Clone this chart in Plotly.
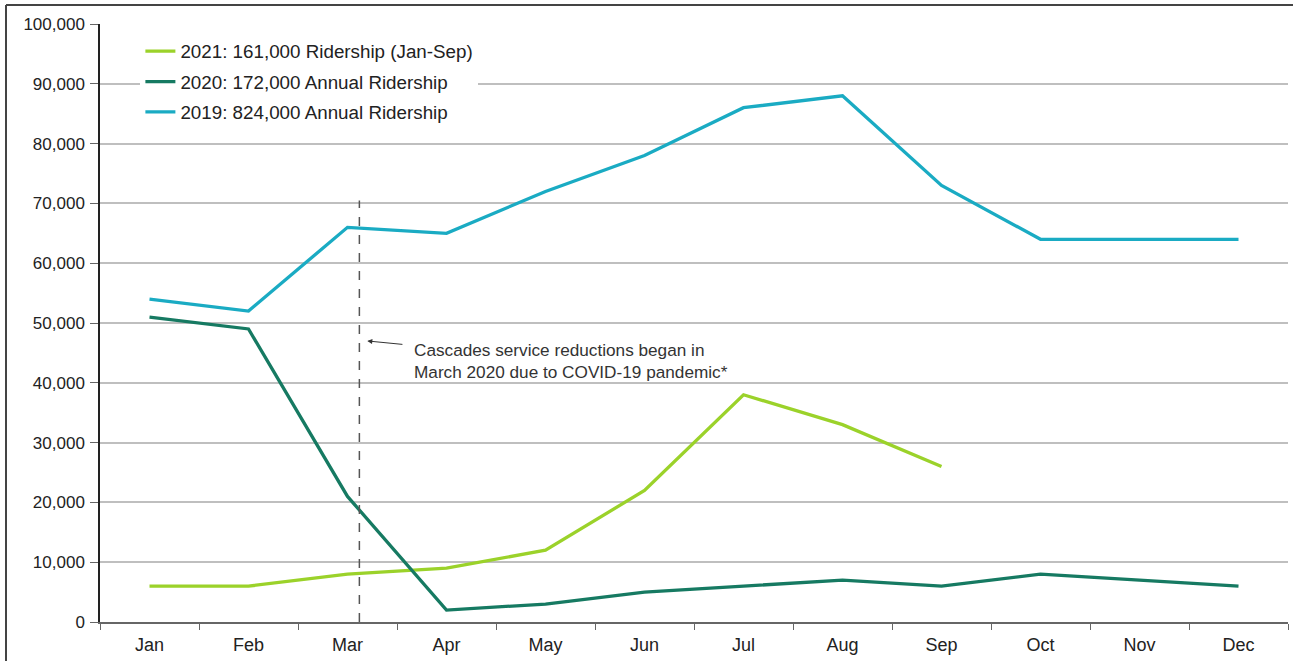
import plotly.graph_objects as go

months = ["Jan", "Feb", "Mar", "Apr", "May", "Jun", "Jul", "Aug", "Sep", "Oct", "Nov", "Dec"]
ridership_2021 = [6000, 6000, 8000, 9000, 12000, 22000, 38000, 33000, 26000]
ridership_2020 = [51000, 49000, 21000, 2000, 3000, 5000, 6000, 7000, 6000, 8000, 7000, 6000]
ridership_2019 = [54000, 52000, 66000, 65000, 72000, 78000, 86000, 88000, 73000, 64000, 64000, 64000]
series_names = ["2021: 161,000 Ridership (Jan-Sep)", "2020: 172,000 Annual Ridership", "2019: 824,000 Annual Ridership"]
y_ticks = [0, 10000, 20000, 30000, 40000, 50000, 60000, 70000, 80000, 90000, 100000]
event_pos = 2.12
event_top = 70500
note_text = "Cascades service reductions began in<br>March 2020 due to COVID-19 pandemic*"

c2021 = "#9BD22A"
c2020 = "#167A62"
c2019 = "#1AABC3"
FONT = "Liberation Sans, Arial, sans-serif"

fig = go.Figure()
fig.add_trace(go.Scatter(x=months[:len(ridership_2021)], y=ridership_2021, mode="lines",
                         name=series_names[0], legendgroup="a", line=dict(color=c2021, width=3.3)))
fig.add_trace(go.Scatter(x=months, y=ridership_2020, mode="lines",
                         name=series_names[1], legendgroup="b", line=dict(color=c2020, width=3.3)))
fig.add_trace(go.Scatter(x=months, y=ridership_2019, mode="lines",
                         name=series_names[2], legendgroup="c", line=dict(color=c2019, width=3.3)))

# dashed event line
fig.add_shape(type="line", xref="x", yref="y", x0=event_pos, x1=event_pos, y0=0, y1=event_top,
              line=dict(color="#555555", width=1.5, dash="dash"), layer="above")

# annotation with arrow
fig.add_annotation(x=event_pos + 0.08, y=47000, xref="x", yref="y",
                   ax=event_pos + 0.45, ay=46400, axref="x", ayref="y",
                   text="", showarrow=True, arrowhead=2, arrowsize=1, arrowwidth=1, arrowcolor="#333333")
fig.add_annotation(x=event_pos + 0.53, y=47500, xref="x", yref="y", text=note_text,
                   showarrow=False, xanchor="left", yanchor="top", align="left",
                   font=dict(size=17.2, color="#333333", family=FONT))

# outer border (left and top)
x_left = (6 - 100) / 1188
y_top = (622 - 5) / 598
fig.add_shape(type="line", xref="paper", yref="paper", x0=x_left, x1=x_left, y0=-0.2, y1=y_top,
              line=dict(color="#444444", width=2))
fig.add_shape(type="line", xref="paper", yref="paper", x0=x_left, x1=1.01, y0=y_top, y1=y_top,
              line=dict(color="#444444", width=2))

fig.update_layout(
    width=1293, height=661,
    margin=dict(l=100, r=5, t=24, b=39),
    paper_bgcolor="white", plot_bgcolor="white",
    font=dict(family=FONT, size=17, color="#222222"),
    showlegend=True,
    legend=dict(x=0.034, y=0.986, xanchor="left", yanchor="top", bgcolor="white",
                font=dict(size=18.8, color="#222222", family=FONT), tracegroupgap=3, itemwidth=30,
                traceorder="grouped"),
    xaxis=dict(type="category", categoryorder="array", categoryarray=months,
               range=[-0.5, 11.5], showgrid=False, showline=True, linecolor="#666666", linewidth=1.5,
               ticks="outside", tickson="boundaries", ticklen=6, tickcolor="#666666",
               ticklabelstandoff=6,
               tickfont=dict(size=18, color="#222222", family=FONT)),
    yaxis=dict(range=[0, 100000], tickvals=y_ticks, tickformat=",", showgrid=True,
               gridcolor="#BFBFBF", gridwidth=1.5, showline=True, linecolor="#222222", linewidth=1.5,
               ticks="outside", ticklen=8, tickcolor="#666666", zeroline=False,
               ticklabelstandoff=2,
               tickfont=dict(size=17, color="#222222", family=FONT)),
)

fig.write_html("out.html")
